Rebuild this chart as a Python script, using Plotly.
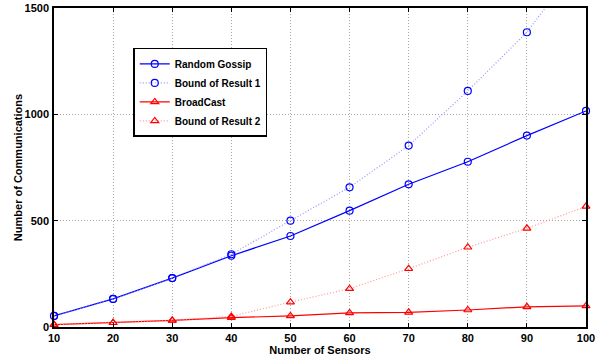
import plotly.graph_objects as go

sensors = [10, 20, 30, 40, 50, 60, 70, 80, 90, 100]
random_gossip = [52, 132, 230, 335, 428, 547, 671, 777, 900, 1016]
bound_result1 = [52, 132, 230, 342, 500, 657, 853, 1110, 1386, 1755]
broadcast = [11, 20, 31, 44, 52, 66, 69, 80, 95, 99]
bound_result2 = [11, 20, 31, 50, 117, 180, 274, 375, 464, 567]

x_ticks = [10, 20, 30, 40, 50, 60, 70, 80, 90, 100]
y_ticks = [0, 500, 1000, 1500]

BLUE = "#0000ff"
RED = "#ff0000"
font_b = dict(family="Liberation Sans, Arial, sans-serif", size=11, color="black")

fig = go.Figure()
fig.add_trace(go.Scatter(
    x=sensors, y=random_gossip, name="<b>Random Gossip</b>", mode="lines+markers",
    line=dict(color=BLUE, width=1.2),
    marker=dict(symbol="circle-open", size=7, color=BLUE, line=dict(width=1.2)),
    cliponaxis=False))
fig.add_trace(go.Scatter(
    x=sensors, y=bound_result1, name="<b>Bound of Result 1</b>", mode="lines+markers",
    line=dict(color="rgba(130,130,255,0.85)", width=1.2, dash="1px,2px"),
    marker=dict(symbol="circle-open", size=7, color=BLUE, line=dict(width=1.2)),
    cliponaxis=True))
fig.add_trace(go.Scatter(
    x=sensors, y=broadcast, name="<b>BroadCast</b>", mode="lines+markers",
    line=dict(color=RED, width=1.2),
    marker=dict(symbol="triangle-up-open", size=7, color=RED, line=dict(width=1.2)),
    cliponaxis=False))
fig.add_trace(go.Scatter(
    x=sensors, y=bound_result2, name="<b>Bound of Result 2</b>", mode="lines+markers",
    line=dict(color="rgba(255,130,130,0.85)", width=1.2, dash="1px,2px"),
    marker=dict(symbol="triangle-up-open", size=7, color=RED, line=dict(width=1.2)),
    cliponaxis=False))

axis_common = dict(
    showline=True, linecolor="black", linewidth=1.5, mirror="ticks",
    ticks="inside", ticklen=4, tickcolor="black", tickwidth=1,
    showgrid=True, gridcolor="#a8a8a8", griddash="1px,2px", gridwidth=1,
    zeroline=False, automargin=False,
    tickfont=dict(family=font_b["family"], size=11, color="black"),
)

fig.update_layout(
    width=605, height=356,
    margin=dict(l=54, r=19, t=8, b=29),
    paper_bgcolor="white", plot_bgcolor="white",
    font=font_b,
    xaxis=dict(range=[10, 100], tickvals=x_ticks, ticktext=[f"<b>{v}</b>" for v in x_ticks],
               ticklabelstandoff=0,
               title=dict(text="<b>Number of Sensors</b>", standoff=0, font=dict(size=11)),
               **axis_common),
    yaxis=dict(range=[0, 1500], tickvals=y_ticks, ticktext=[f"<b>{v}</b>" for v in y_ticks],
               ticklabelstandoff=1,
               title=dict(text="<b>Number of Communications</b>", standoff=0, font=dict(size=11)),
               **axis_common),
    legend=dict(x=0.149, y=0.875, xanchor="left", yanchor="top",
                bgcolor="white", bordercolor="black", borderwidth=1.5,
                font=dict(size=10), tracegroupgap=0, itemwidth=30),
    showlegend=True,
)

fig.write_html("out.html", config={"displayModeBar": False},
               post_script="document.body.style.margin='0';")
